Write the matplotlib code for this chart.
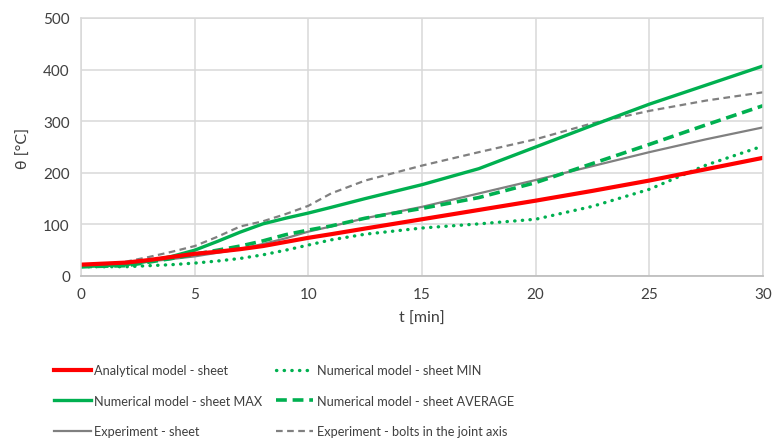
import matplotlib
matplotlib.use("Agg")
import matplotlib.pyplot as plt

plt.rcParams['font.family'] = ['Lato', 'DejaVu Sans']

t = [0, 2, 3, 4, 5, 6, 7, 8, 9, 10, 11, 12.5, 15, 17.5, 20, 22.5, 25, 27.5, 30]

analytical = [22, 26, 31, 37, 43, 47, 52, 58, 66, 74, 81, 92, 110, 128, 146, 165, 185, 207, 229]
num_min = [18, 18, 20, 22, 25, 29, 34, 41, 50, 60, 70, 81, 93, 101, 110, 135, 168, 215, 252]
num_max = [18, 22, 29, 38, 50, 67, 85, 101, 112, 122, 133, 150, 177, 208, 250, 292, 333, 370, 407]
num_avg = [18, 20, 27, 34, 42, 50, 58, 68, 80, 89, 97, 112, 131, 152, 181, 218, 255, 293, 330]
exp_sheet = [20, 24, 28, 33, 38, 45, 52, 62, 73, 86, 96, 112, 134, 160, 186, 213, 240, 265, 288]
exp_bolts = [20, 28, 37, 47, 58, 76, 96, 106, 120, 136, 160, 185, 214, 240, 265, 296, 320, 340, 356]

labels = ["Analytical model - sheet", "Numerical model - sheet MIN",
          "Numerical model - sheet MAX", "Numerical model - sheet AVERAGE",
          "Experiment - sheet", "Experiment - bolts in the joint axis"]

xticks = [0, 5, 10, 15, 20, 25, 30]
yticks = [0, 100, 200, 300, 400, 500]

RED = "#FF0000"
GREEN = "#00B050"
GREY = "#808080"
TXT = "#404040"

fig = plt.figure(figsize=(7.74, 4.39), dpi=100)
ax = fig.add_axes([81/774, 1-277/439, (763-81)/774, (277-19)/439])

l_bolts, = ax.plot(t, exp_bolts, color=GREY, lw=1.6, ls=(0, (3, 2)), label=labels[5])
l_sheet, = ax.plot(t, exp_sheet, color=GREY, lw=1.6, label=labels[4])
l_min, = ax.plot(t, num_min, color=GREEN, lw=2.4, ls=(0, (0.1, 2.2)), dash_capstyle='round', label=labels[1])
l_avg, = ax.plot(t, num_avg, color=GREEN, lw=2.6, ls=(0, (3, 1.6)), label=labels[3])
l_max, = ax.plot(t, num_max, color=GREEN, lw=2.4, label=labels[2])
l_an, = ax.plot(t, analytical, color=RED, lw=3.0, label=labels[0])

ax.set_xlim(0, 30)
ax.set_ylim(0, 500)
ax.set_xticks(xticks)
ax.set_yticks(yticks)
ax.grid(True, color="#D9D9D9", lw=1.1)
ax.set_axisbelow(True)
for s in ['top', 'right', 'left']:
    ax.spines[s].set_color("#D9D9D9")
    ax.spines[s].set_linewidth(1.1)
ax.spines['bottom'].set_color("#BFBFBF")
ax.spines['bottom'].set_linewidth(1.3)
ax.tick_params(length=0, labelsize=11, colors=TXT, pad=8)
ax.set_xlabel("t [min]", fontsize=11.5, color=TXT, labelpad=7)
ax.set_ylabel("θ [°C]", fontsize=11.5, color=TXT, labelpad=9)

handles = [l_an, l_max, l_sheet, l_min, l_avg, l_bolts]
hl = [h.get_label() for h in handles]
leg = fig.legend(handles, hl, ncol=2, loc='upper left', bbox_to_anchor=(54/774, 1-365/439),
                 frameon=False, fontsize=9.2, handlelength=2.9, handletextpad=0.25,
                 columnspacing=1.1, labelspacing=1.45, borderaxespad=0, borderpad=0)
for txt in leg.get_texts():
    txt.set_color(TXT)

fig.savefig("out.png", dpi=100)
